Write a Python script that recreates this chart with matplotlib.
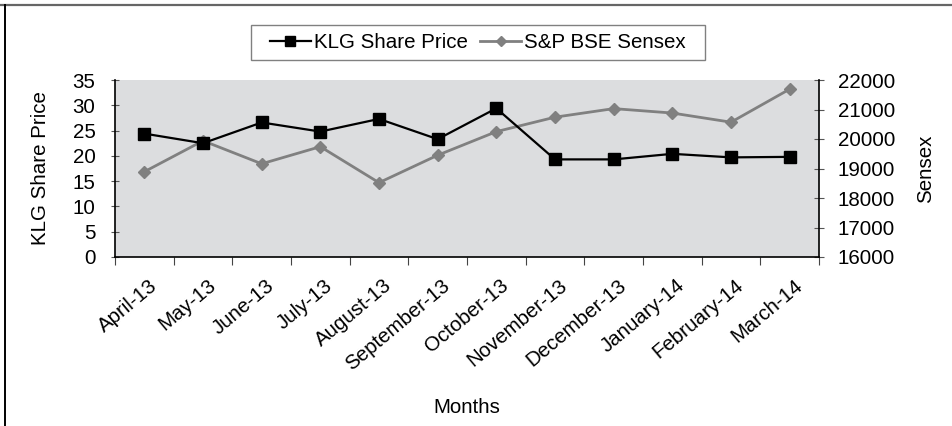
import matplotlib
matplotlib.use("Agg")
import matplotlib.pyplot as plt
from matplotlib.lines import Line2D
from matplotlib.patches import Rectangle
import numpy as np

plt.rcParams['font.family'] = ['Liberation Sans', 'DejaVu Sans']

months = ["April-13", "May-13", "June-13", "July-13", "August-13", "September-13",
          "October-13", "November-13", "December-13", "January-14", "February-14", "March-14"]
klg = [24.4, 22.5, 26.6, 24.8, 27.3, 23.3, 29.4, 19.3, 19.3, 20.4, 19.7, 19.8]
sensex = [18890, 19940, 19160, 19740, 18520, 19450, 20250, 20740, 21030, 20880, 20570, 21690]
left_ticks = [0, 5, 10, 15, 20, 25, 30, 35]
right_ticks = [16000, 17000, 18000, 19000, 20000, 21000, 22000]

FS = 14.8
W, H = 952, 426
fig = plt.figure(figsize=(W/100, H/100), dpi=100)
pos = [115/W, 1-257/H, (819-115)/W, (257-80)/H]
ax2 = fig.add_axes(pos)
ax = fig.add_axes(pos)
ax2.set_facecolor('#DCDDDF')
ax.patch.set_visible(False)
x = np.arange(len(months))

ax2.plot(x, sensex, color='#808080', lw=2.0, marker='D', ms=6, zorder=3)
ax.plot(x, klg, color='black', lw=1.6, marker='s', ms=8.5, zorder=4)

for a in (ax, ax2):
    a.set_xlim(-0.5, len(months) - 0.5)
ax.set_ylim(0, 35)
ax2.set_ylim(16000, 22000)
ax.set_yticks(left_ticks)
ax2.yaxis.tick_right()
ax2.yaxis.set_label_position('right')
ax2.set_yticks(right_ticks)
ax2.set_xticks([])

# category boundary ticks (no labels)
ax.set_xticks(np.arange(-0.5, len(months)))
ax.set_xticklabels([])
# category labels, rotated, right end anchored just right of each category centre
for i, m in enumerate(months):
    ax.annotate(m, xy=(x[i], 0), xycoords=('data', 'axes fraction'),
                xytext=(10, -26), textcoords='offset pixels',
                rotation=40, ha='right', va='center', rotation_mode='anchor',
                fontsize=FS, annotation_clip=False)

ax.tick_params(axis='x', length=6, direction='out', color='#444')
ax.tick_params(axis='y', length=6, direction='inout', color='#555', labelsize=FS, pad=11)
ax2.tick_params(axis='y', length=7, direction='inout', color='#555', labelsize=FS, pad=10)

for s in ax.spines.values():
    s.set_visible(False)
for s in ax2.spines.values():
    s.set_visible(False)
ax.spines['left'].set_visible(True)
ax.spines['bottom'].set_visible(True)
ax2.spines['right'].set_visible(True)
for s in (ax.spines['left'], ax.spines['bottom'], ax2.spines['right']):
    s.set_color('black')
    s.set_linewidth(1.2)

ax.set_ylabel("KLG Share Price", fontsize=FS, labelpad=16)
ax2.set_ylabel("Sensex", fontsize=FS, labelpad=15)
ax.set_xlabel("Months", fontsize=FS)
ax.xaxis.set_label_coords(0.5, (257-407)/177)
ax.xaxis.label.set_va('center')

handles = [Line2D([], [], color='black', lw=1.6, marker='s', ms=7),
           Line2D([], [], color='#808080', lw=2.0, marker='D', ms=5)]
leg = fig.legend(handles, ["KLG Share Price", "S&P BSE Sensex"], loc='center',
                 bbox_to_anchor=(478/W, 1-43/H), ncol=2, fontsize=FS,
                 frameon=False, handlelength=2.0, handletextpad=0.15,
                 columnspacing=0.6, borderaxespad=0)
fig.add_artist(Rectangle((251/W, 1-60/H), (705-251)/W, 35/H, transform=fig.transFigure,
                         facecolor='none', edgecolor='#808080', lw=1.0))

# outer border (top and left)
fig.add_artist(Line2D([0, 1], [1-5/H, 1-5/H], color='#666666', lw=1.6,
                      transform=fig.transFigure))
fig.add_artist(Line2D([5/W, 5/W], [0, 1-5/H], color='black', lw=1.4,
                      transform=fig.transFigure))

fig.savefig("out.png", dpi=100)
